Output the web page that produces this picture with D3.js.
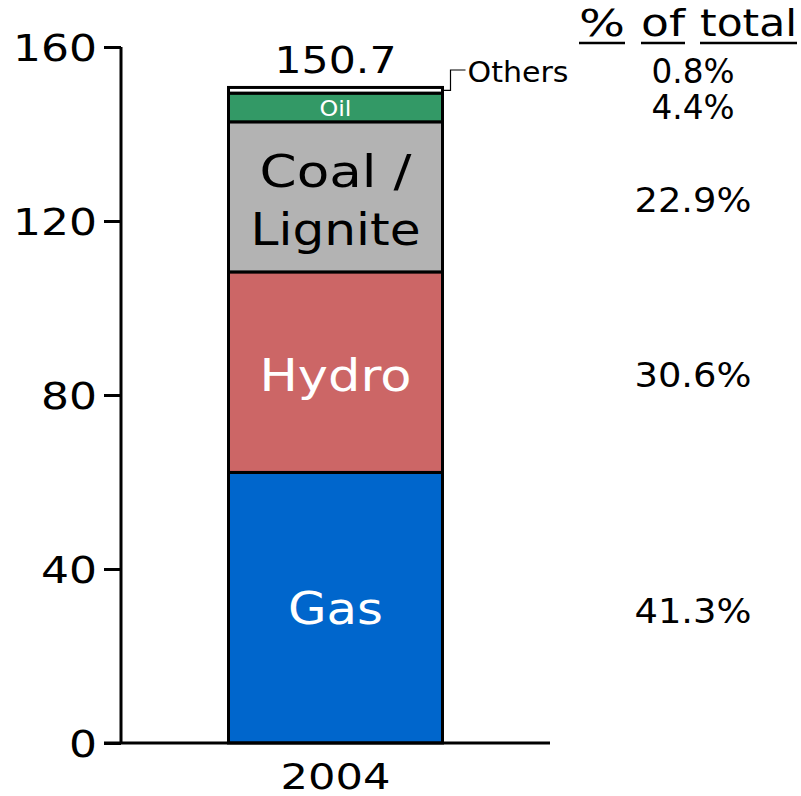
<!DOCTYPE html>
<html>
<head>
<meta charset="utf-8">
<script src="https://cdn.jsdelivr.net/npm/d3@7"></script>
<style>
  body { margin: 0; background: #fff; }
  svg { display: block; font-family: "DejaVu Sans", Verdana, sans-serif; }
</style>
</head>
<body>
<div id="chart"></div>
<script>
// data
const year = "2004";
const sources = ["Gas", "Hydro", "Coal / Lignite", "Oil", "Others"];
const values = [62.2, 46.1, 34.5, 6.6, 1.3];
const shares = ["41.3%", "30.6%", "22.9%", "4.4%", "0.8%"];
const colors = ["#0066cc", "#cc6666", "#b3b3b3", "#339966", "#ffffff"];
const total = "150.7";
const yTicks = [0, 40, 80, 120, 160];
const header = ["%", "of", "total"];

const width = 801, height = 796;
const margin = { top: 47, right: 251, bottom: 53, left: 121 };

const svg = d3.select("#chart").append("svg")
  .attr("width", width)
  .attr("height", height);

const y = d3.scaleLinear()
  .domain([0, 160])
  .range([height - margin.bottom, margin.top]);

const x = d3.scaleBand()
  .domain([year])
  .range([margin.left, 550])
  .paddingInner(0.5).paddingOuter(0.5);

// text in the original is a little wider than the font's natural width
function stretch(sel, w) {
  sel.attr("textLength", w).attr("lengthAdjust", "spacingAndGlyphs");
}

// stack
let acc = 0;
const segs = values.map((v, i) => {
  const s = { name: sources[i], y0: acc, y1: acc + v, mid: acc + v / 2, color: colors[i], share: shares[i] };
  acc += v;
  return s;
});

const bw = 214;
const bandX = x(year) + (x.bandwidth() - bw) / 2;
const cx = bandX + bw / 2;

svg.append("g").selectAll("rect")
  .data(segs)
  .join("rect")
  .attr("x", bandX)
  .attr("width", bw)
  .attr("y", d => y(d.y1))
  .attr("height", d => y(d.y0) - y(d.y1))
  .attr("fill", d => d.color)
  .attr("stroke", "#000")
  .attr("stroke-width", 3);

// segment labels
const lab = svg.append("g").attr("text-anchor", "middle");
lab.append("text").attr("x", cx).attr("y", y(segs[0].mid) + 16)
  .attr("fill", "#fff").attr("font-size", 45).text("Gas").call(stretch, 95);
lab.append("text").attr("x", cx).attr("y", y(segs[1].mid) + 19)
  .attr("fill", "#fff").attr("font-size", 45).text("Hydro").call(stretch, 152);
lab.append("text").attr("x", cx).attr("y", y(segs[2].mid) - 10)
  .attr("fill", "#000").attr("font-size", 45).text("Coal /").call(stretch, 152);
lab.append("text").attr("x", cx).attr("y", y(segs[2].mid) + 48)
  .attr("fill", "#000").attr("font-size", 45).text("Lignite").call(stretch, 170);
lab.append("text").attr("x", cx).attr("y", y(segs[3].mid) + 9)
  .attr("fill", "#fff").attr("font-size", 22).text("Oil").call(stretch, 32);

// total
svg.append("text").attr("x", cx).attr("y", y(acc) - 14)
  .attr("text-anchor", "middle").attr("font-size", 38).text(total).call(stretch, 122);

// others leader
const oy = y(segs[4].mid);
const right = bandX + bw;
svg.append("path")
  .attr("d", `M${right},${oy} H${right + 8} V${70} H${right + 23}`)
  .attr("fill", "none").attr("stroke", "#000").attr("stroke-width", 1.2);
svg.append("text").attr("x", right + 25).attr("y", 82)
  .attr("font-size", 28).text("Others").call(stretch, 101);

// y axis
const yAxis = svg.append("g")
  .attr("transform", `translate(${margin.left},0)`)
  .call(d3.axisLeft(y).tickValues(yTicks).tickSize(17).tickPadding(7));
yAxis.select(".domain").attr("stroke-width", 3).attr("d", `M0,${y(160)}V${y(0)}`);
yAxis.selectAll(".tick line").attr("stroke-width", 3);
yAxis.selectAll(".tick text")
  .attr("font-size", 37).attr("font-family", "DejaVu Sans, sans-serif").attr("fill", "#000")
  .attr("dy", null).attr("y", 13)
  .each(function(d) { d3.select(this).call(stretch, 28 * String(d).length); });

// x axis
const xAxis = svg.append("g")
  .attr("transform", `translate(0,${y(0)})`)
  .call(d3.axisBottom(x).tickSize(0).tickPadding(0));
xAxis.select(".domain").attr("stroke-width", 3).attr("d", `M${margin.left - 17},0H550`);
xAxis.selectAll(".tick text")
  .attr("font-size", 36).attr("font-family", "DejaVu Sans, sans-serif").attr("fill", "#000")
  .attr("dy", null).attr("y", 46)
  .call(stretch, 110);

// share column
const px = 693;
svg.append("g").attr("text-anchor", "middle").attr("font-size", 33)
  .selectAll("text")
  .data(segs)
  .join("text")
  .attr("x", px)
  .attr("y", d => d.name === "Others" ? 83 : y(d.mid) + (d.name === "Oil" ? 12 : 15))
  .text(d => d.share)
  .each(function(d) { d3.select(this).call(stretch, d.share.length === 4 ? 83 : 117); });

// header
const headPos = [[579, 625], [641, 685], [700, 797]];
const hg = svg.append("g");
hg.selectAll("text").data(header).join("text")
  .attr("x", (d, i) => headPos[i][0]).attr("y", 36)
  .attr("font-size", 38)
  .text(d => d)
  .each(function(d, i) { d3.select(this).call(stretch, headPos[i][1] - headPos[i][0]); });
hg.selectAll("line").data(header).join("line")
  .attr("x1", (d, i) => headPos[i][0]).attr("x2", (d, i) => headPos[i][1])
  .attr("y1", 43).attr("y2", 43)
  .attr("stroke", "#000").attr("stroke-width", 2.5);
</script>
</body>
</html>
